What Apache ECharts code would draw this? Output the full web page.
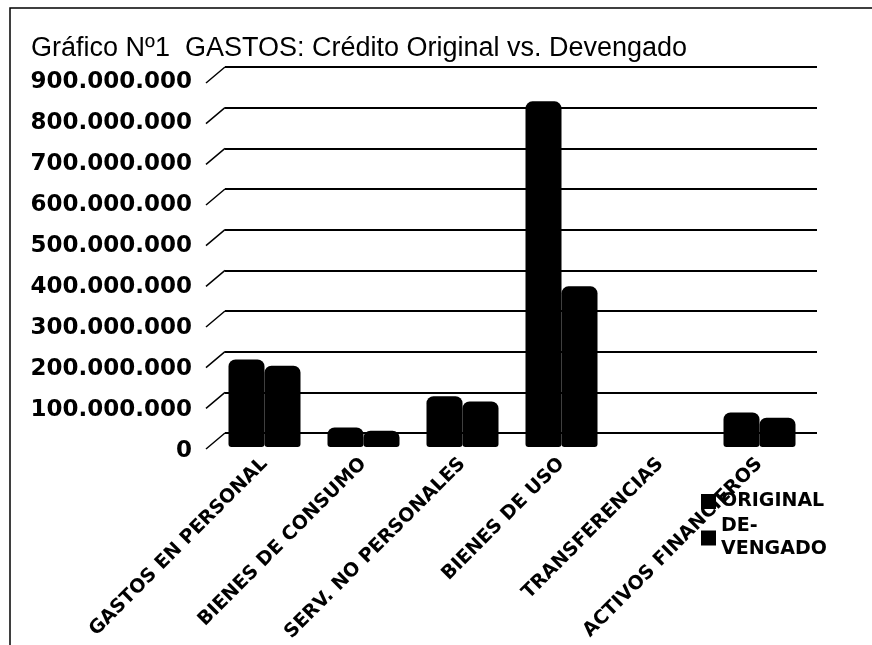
<!DOCTYPE html>
<html>
<head>
<meta charset="utf-8">
<script src="https://cdn.jsdelivr.net/npm/echarts@6/dist/echarts.min.js"></script>
<style>
html,body{margin:0;padding:0;background:#fff;}
#chart{width:872px;height:645px;}
</style>
</head>
<body>
<div id="chart"></div>
<script>
const categories = ['GASTOS EN PERSONAL', 'BIENES DE CONSUMO', 'SERV. NO PERSONALES', 'BIENES DE USO', 'TRANSFERENCIAS', 'ACTIVOS FINANCIEROS'];
const original = [215000000, 48000000, 125000000, 850000000, 0, 85000000];
const devengado = [200000000, 40000000, 112000000, 395000000, 0, 72000000];
const yTicks = [0, 100000000, 200000000, 300000000, 400000000, 500000000, 600000000, 700000000, 800000000, 900000000];
const seriesNames = ['ORIGINAL', 'DEVENGADO'];
const titleText = 'Gráfico Nº1  GASTOS: Crédito Original vs. Devengado';

function fmt(v) {
  return String(Math.round(v)).replace(/\B(?=(\d{3})+(?!\d))/g, '.');
}

const chart = echarts.init(document.getElementById('chart'), null, {renderer: 'canvas'});
const option = {
  backgroundColor: '#fff',
  animation: false,
  title: {
    text: titleText,
    left: 26, top: 30,
    textStyle: {fontFamily: 'Liberation Sans', fontSize: 27, fontWeight: 'normal', color: '#000'}
  },
  legend: {
    orient: 'vertical',
    left: 696, top: 485,
    itemWidth: 15, itemHeight: 15, itemGap: 2,
    icon: 'rect',
    data: seriesNames,
    formatter: function (n) { return n === 'DEVENGADO' ? 'DE-\nVENGADO' : n; },
    textStyle: {fontFamily: 'DejaVu Sans', fontWeight: 'bold', fontSize: 19, color: '#000', lineHeight: 23}
  },
  graphic: [{
    type: 'rect', silent: true,
    shape: {x: 10, y: 8, width: 1000, height: 800},
    style: {fill: 'none', stroke: '#000', lineWidth: 1.5}
  }],
  grid: [
    {left: 225, right: 55, top: 67, bottom: 212},
    {left: 215, right: 63, top: 81, bottom: 198},
    {left: 225, right: 55, top: 82, bottom: 194}
  ],
  xAxis: [
    {gridIndex: 0, type: 'value', min: 0, max: 1, show: false},
    {
      gridIndex: 1, type: 'category', data: categories,
      axisLine: {show: false}, axisTick: {show: false},
      axisLabel: {interval: 0, rotate: 45, margin: 14, color: '#000',
        fontFamily: 'DejaVu Sans', fontWeight: 'bold', fontSize: 19}
    },
    {gridIndex: 2, type: 'value', min: 0, max: 1, show: false}
  ],
  yAxis: [
    {
      gridIndex: 0, type: 'value', min: 0, max: 900000000, interval: 100000000,
      axisLine: {show: false}, axisTick: {show: false}, axisLabel: {show: false},
      splitLine: {show: true, lineStyle: {color: '#000', width: 2}}
    },
    {gridIndex: 1, type: 'value', min: 0, max: 900000000, show: false},
    {
      gridIndex: 2, type: 'value', min: 0, max: 900000000, interval: 100000000,
      axisLine: {show: false}, axisTick: {show: false}, splitLine: {show: false},
      axisLabel: {
        margin: 33, color: '#000', fontFamily: 'DejaVu Sans', fontWeight: 'bold', fontSize: 23,
        formatter: fmt
      }
    }
  ],
  series: [
    {
      type: 'custom', xAxisIndex: 0, yAxisIndex: 0, silent: true, clip: false,
      data: yTicks.map(v => [0, v]),
      renderItem: function (params, api) {
        const p = api.coord([0, api.value(1)]);
        return {type: 'line', shape: {x1: p[0] - 19, y1: p[1] + 16, x2: p[0], y2: p[1]},
          style: {stroke: '#000', lineWidth: 1.5}};
      }
    },
    {
      name: seriesNames[0], type: 'bar', xAxisIndex: 1, yAxisIndex: 1,
      data: original, barWidth: 36, barGap: '0%',
      itemStyle: {color: '#000', borderRadius: [7, 7, 3, 3]}
    },
    {
      name: seriesNames[1], type: 'bar', xAxisIndex: 1, yAxisIndex: 1,
      data: devengado, barWidth: 36,
      itemStyle: {color: '#000', borderRadius: [7, 7, 3, 3]}
    }
  ]
};
chart.setOption(option);
</script>
</body>
</html>
